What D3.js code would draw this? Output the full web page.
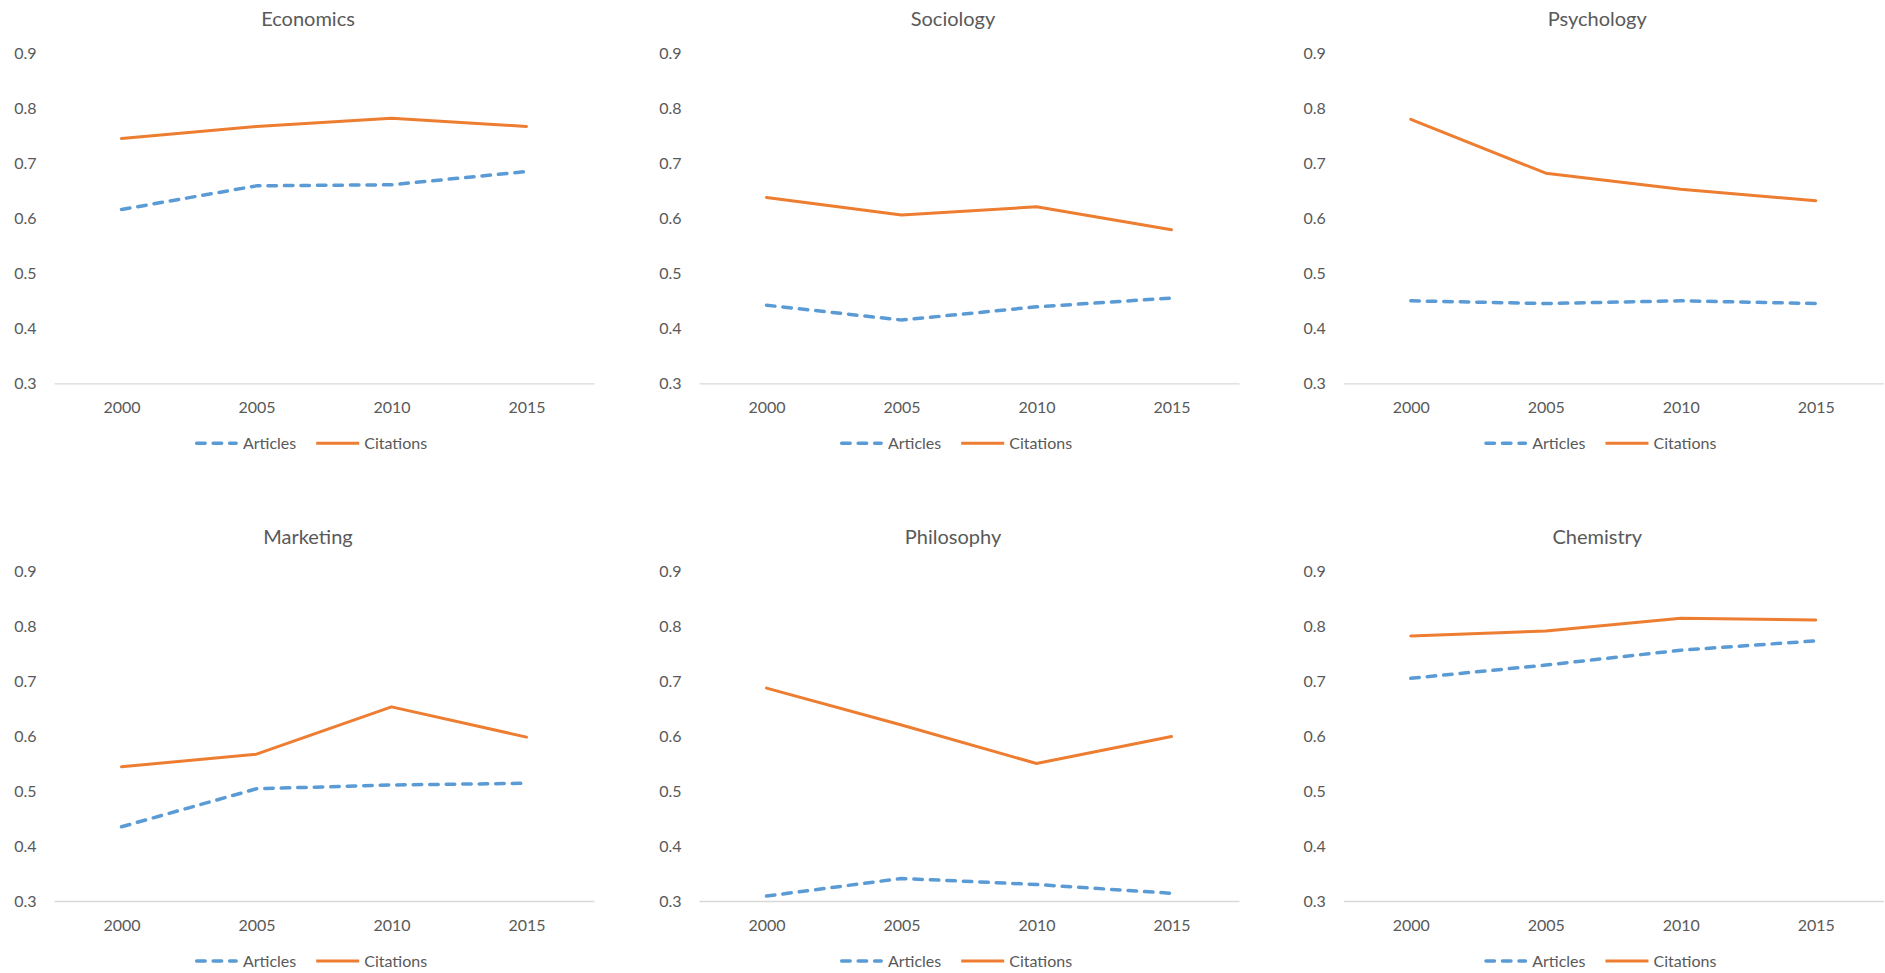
<!DOCTYPE html>
<html>
<head>
<meta charset="utf-8">
<script src="https://cdn.jsdelivr.net/npm/d3@7"></script>
<style>
  html, body { margin: 0; padding: 0; background: #ffffff; }
  svg { display: block; }
  text { font-family: Lato, "Open Sans", sans-serif; fill: #595959; }
</style>
</head>
<body>
<svg id="chart" width="1885" height="973"></svg>
<script>
// Share of top-cited work by field, 2000–2015
const years = ["2000", "2005", "2010", "2015"];
const fields = ["Economics", "Sociology", "Psychology", "Marketing", "Philosophy", "Chemistry"];
const yTicks = [0.3, 0.4, 0.5, 0.6, 0.7, 0.8, 0.9];
const seriesNames = ["Articles", "Citations"];

const economicsArticles  = [0.616, 0.659, 0.661, 0.685];
const economicsCitations = [0.745, 0.767, 0.782, 0.767];
const sociologyArticles  = [0.442, 0.415, 0.439, 0.455];
const sociologyCitations = [0.638, 0.606, 0.621, 0.579];
const psychologyArticles  = [0.450, 0.445, 0.450, 0.445];
const psychologyCitations = [0.780, 0.682, 0.653, 0.632];
const marketingArticles  = [0.435, 0.504, 0.511, 0.514];
const marketingCitations = [0.544, 0.567, 0.653, 0.598];
const philosophyArticles  = [0.309, 0.341, 0.330, 0.314];
const philosophyCitations = [0.687, 0.620, 0.550, 0.599];
const chemistryArticles  = [0.705, 0.729, 0.756, 0.773];
const chemistryCitations = [0.782, 0.791, 0.814, 0.811];

const panelData = [
  [economicsArticles, economicsCitations],
  [sociologyArticles, sociologyCitations],
  [psychologyArticles, psychologyCitations],
  [marketingArticles, marketingCitations],
  [philosophyArticles, philosophyCitations],
  [chemistryArticles, chemistryCitations]
];

const colors = { Articles: "#5B9BD5", Citations: "#ED7D31" };

// grid geometry
const colOffsets = [0, 645, 1289.3];
const rowOffsets = [0, 517.7];
const plotLeft = 54, plotWidth = 540;
const plotTop = 53.3, plotBottom = 383.3;
const titleY = 19, legendY = 443.3;

const svg = d3.select("#chart");
svg.append("rect").attr("width", 1885).attr("height", 973).attr("fill", "#ffffff");

fields.forEach((field, i) => {
  const ox = colOffsets[i % 3], oy = rowOffsets[Math.floor(i / 3)];
  const g = svg.append("g").attr("transform", `translate(${ox},${oy})`);

  const x = d3.scalePoint().domain(years).range([plotLeft, plotLeft + plotWidth]).padding(0.5);
  const y = d3.scaleLinear().domain([0.3, 0.9]).range([plotBottom, plotTop]);

  // title
  const cx = plotLeft + 254;
  g.append("text").attr("x", cx).attr("y", titleY).attr("dy", "0.35em")
    .attr("text-anchor", "middle").style("font-size", "20px").text(field);

  // y axis labels
  const yAxis = g.append("g").attr("transform", `translate(${plotLeft},0)`)
    .call(d3.axisLeft(y).tickValues(yTicks).tickFormat(d3.format(".1f")).tickSize(0).tickPadding(17.5));
  yAxis.select(".domain").remove();
  yAxis.selectAll("text").style("font-size", "16px").style("font-family", "Lato, sans-serif")
    .attr("fill", "#595959");

  // x axis
  const xAxis = g.append("g").attr("transform", `translate(0,${plotBottom})`)
    .call(d3.axisBottom(x).tickSize(0).tickSizeOuter(0));
  xAxis.select(".domain").attr("stroke", "#D9D9D9").attr("stroke-width", 1.3);
  xAxis.selectAll("text").attr("y", 24.4).attr("dy", "0.35em")
    .style("font-size", "16px").style("font-family", "Lato, sans-serif").attr("fill", "#595959");

  // series lines
  const line = d3.line().x((d, k) => x(years[k])).y(d => y(d));
  seriesNames.forEach((name, s) => {
    const path = g.append("path").datum(panelData[i][s])
      .attr("d", line).attr("fill", "none")
      .attr("stroke", colors[name]).attr("stroke-linejoin", "round");
    if (name === "Articles") {
      path.attr("stroke-width", 3.5).attr("stroke-dasharray", "8.5,8").attr("stroke-linecap", "round");
    } else {
      path.attr("stroke-width", 3).attr("stroke-linecap", "round");
    }
  });

  // legend, centered under the plot
  const lg = g.append("g");
  let cursor = 0;
  seriesNames.forEach((name, s) => {
    const item = lg.append("g").attr("transform", `translate(${cursor},0)`);
    const ln = item.append("line").attr("x1", 0).attr("x2", 43).attr("y1", 0).attr("y2", 0)
      .attr("stroke", colors[name]);
    if (name === "Articles") {
      ln.attr("stroke-width", 3.5).attr("stroke-dasharray", "8.5,8").attr("stroke-linecap", "round")
        .attr("x1", 1.75).attr("x2", 41.25);
    } else {
      ln.attr("stroke-width", 3);
    }
    const t = item.append("text").attr("x", 48).attr("y", 0).attr("dy", "0.35em")
      .style("font-size", "16px").text(name);
    const w = t.node().getComputedTextLength();
    cursor += 48 + w + 20;
  });
  const totalW = cursor - 20;
  lg.attr("transform", `translate(${cx - totalW / 2 + 3},${legendY})`);
});
</script>
</body>
</html>
